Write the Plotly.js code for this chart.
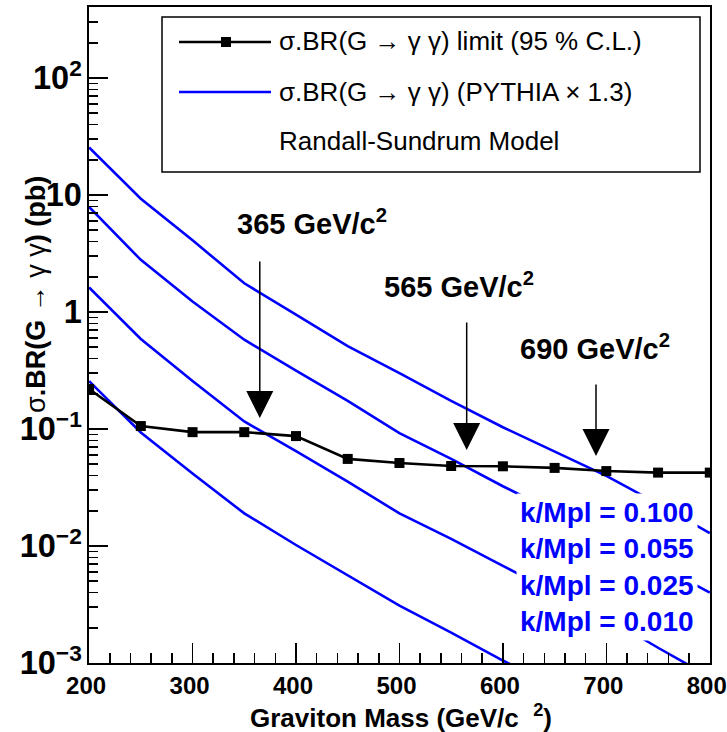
<!DOCTYPE html>
<html>
<head>
<meta charset="utf-8">
<script src="https://cdn.plot.ly/plotly-3.0.1.min.js"></script>
<style>html,body{margin:0;padding:0;background:#fff;}</style>
</head>
<body>
<div id="chart" style="width:727px;height:732px;"></div>
<script>
// ---- data ----
const mass = [200, 250, 300, 350, 400, 450, 500, 550, 600, 650, 700, 750, 800];
const limit95 = [0.22, 0.106, 0.094, 0.094, 0.087, 0.0555, 0.0512, 0.0483, 0.048, 0.0465, 0.0437, 0.0424, 0.0424];
const rs_k0100 = [25.5, 9.3, 4.1, 1.76, 0.95, 0.51, 0.30, 0.174, 0.1035, 0.0646, 0.0398, 0.0229, 0.0129];
const rs_k0055 = [7.9, 2.79, 1.23, 0.58, 0.316, 0.174, 0.0923, 0.0556, 0.0324, 0.0195, 0.01175, 0.0069, 0.0040];
const rs_k0025 = [1.62, 0.589, 0.257, 0.116, 0.0646, 0.0355, 0.019, 0.0115, 0.00676, 0.0040, 0.00245, 0.00135, 0.00076];
const rs_k0010 = [0.257, 0.0933, 0.0417, 0.019, 0.0102, 0.00562, 0.00309, 0.00182, 0.00105, 0.00063, 0.00038, 0.000224, 0.000129];
const kLabels = ["k/Mpl = 0.100", "k/Mpl = 0.055", "k/Mpl = 0.025", "k/Mpl = 0.010"];
const legendTexts = ["σ.BR(G → γ γ) limit (95 % C.L.)", "σ.BR(G → γ γ) (PYTHIA × 1.3)", "Randall-Sundrum Model"];
const exclusion = [
  {m: 365, label: "365 GeV/c<sup>2</sup>", tip: 0.124, tail: 2.78},
  {m: 565, label: "565 GeV/c<sup>2</sup>", tip: 0.0662, tail: 0.838},
  {m: 690, label: "690 GeV/c<sup>2</sup>", tip: 0.0587, tail: 0.247}
];

// ---- layout helpers (pixel -> paper) ----
const L = 89, R = 710, T = 7, B = 663;
const px = x => (x - L) / (R - L);
const py = y => (B - y) / (B - T);
const FONT = "Liberation Sans, Arial, Helvetica, sans-serif";
const BLUE = "#0000ff";

const blueLine = {color: BLUE, width: 2.6};
const traces = [rs_k0100, rs_k0055, rs_k0025, rs_k0010].map(v => ({
  x: mass, y: v, type: "scatter", mode: "lines", line: blueLine, hoverinfo: "skip", showlegend: false
}));
traces.push({
  x: mass, y: limit95, type: "scatter", mode: "lines+markers",
  line: {color: "#000", width: 2.6},
  marker: {symbol: "square", size: 10, color: "#000"},
  showlegend: false
});

const annotations = [];
// exclusion arrows and labels (label positions in pixels)
const labelPos = [
  {x: 235, y: 222},
  {x: 382, y: 285},
  {x: 518, y: 347}
];
exclusion.forEach((e, i) => {
  annotations.push({
    x: e.m, y: Math.log10(e.tip), ax: e.m, ay: Math.log10(e.tail),
    xref: "x", yref: "y", axref: "x", ayref: "y",
    text: "", showarrow: true, arrowhead: 2, arrowsize: 3.6, arrowwidth: 1.5, arrowcolor: "#000"
  });
  annotations.push({
    x: px(labelPos[i].x), y: py(labelPos[i].y), xref: "paper", yref: "paper",
    xanchor: "left", yanchor: "middle", showarrow: false,
    text: "<b>" + e.label + "</b>",
    font: {family: FONT, size: 29, color: "#000"}
  });
});
// k/Mpl labels (white box hides curves behind)
annotations.push({
  x: px(607), y: py(567), xref: "paper", yref: "paper", xanchor: "center", yanchor: "middle",
  showarrow: false, align: "left", bgcolor: "#fff", borderpad: 3,
  text: kLabels.map(t => "<b>" + t + "</b>").join("<br>"),
  font: {family: FONT, size: 28, color: BLUE}
});
// legend texts
const legY = [41, 92, 141];
legendTexts.forEach((t, i) => {
  annotations.push({
    x: px(277), y: py(legY[i]), xref: "paper", yref: "paper", xanchor: "left", yanchor: "middle",
    showarrow: false, text: t, font: {family: FONT, size: 26, color: "#000"}
  });
});
// axis titles
annotations.push({
  x: px(36), y: py(295), xref: "paper", yref: "paper", xanchor: "center", yanchor: "middle",
  textangle: -90, showarrow: false,
  text: "σ<b>.BR(G</b> → γ γ<b>) (pb)</b>",
  font: {family: FONT, size: 27, color: "#000"}
});
annotations.push({
  x: px(401), y: py(716), xref: "paper", yref: "paper", xanchor: "center", yanchor: "middle",
  showarrow: false, text: "<b>Graviton Mass (GeV/c  <sup>2</sup>)</b>",
  font: {family: FONT, size: 26, color: "#000"}
});

const shapes = [
  {type: "rect", xref: "paper", yref: "paper", x0: px(162), x1: px(700), y0: py(172), y1: py(17),
   line: {color: "#000", width: 1.5}, fillcolor: "#fff", layer: "above"},
  {type: "line", xref: "paper", yref: "paper", x0: px(179), x1: px(271), y0: py(42), y1: py(42),
   line: {color: "#000", width: 2.6}},
  {type: "rect", xref: "paper", yref: "paper", x0: px(221), x1: px(231), y0: py(47), y1: py(37),
   line: {width: 0}, fillcolor: "#000"},
  {type: "line", xref: "paper", yref: "paper", x0: px(179), x1: px(271), y0: py(92), y1: py(92),
   line: {color: BLUE, width: 2.6}}
];

const layout = {
  width: 727, height: 732,
  margin: {l: L, r: 727 - R, t: T, b: 732 - B},
  paper_bgcolor: "#fff", plot_bgcolor: "#fff",
  showlegend: false,
  font: {family: FONT, color: "#000"},
  xaxis: {
    range: [199.9, 800.2], tick0: 200, dtick: 100, ticks: "inside", ticklen: 20, tickwidth: 1.5, tickcolor: "#000",
    minor: {dtick: 20, ticks: "inside", ticklen: 10, tickwidth: 1.5, tickcolor: "#000"},
    ticklabeloverflow: "allow", ticklabelshift: -3,
    showline: true, linewidth: 2, linecolor: "#000", mirror: true, showgrid: false, zeroline: false,
    tickfont: {family: FONT, size: 24, weight: "bold", color: "#000"}
  },
  yaxis: {
    type: "log", range: [-3, 2.607], dtick: 1, exponentformat: "power",
    ticks: "inside", ticklen: 19, tickwidth: 1.5, tickcolor: "#000",
    minor: {dtick: "D1", ticks: "inside", ticklen: 9, tickwidth: 1.5, tickcolor: "#000"},
    showline: true, linewidth: 2, linecolor: "#000", mirror: true, showgrid: false, zeroline: false,
    tickfont: {family: FONT, size: 26, weight: "bold", color: "#000"}
  },
  annotations: annotations,
  shapes: shapes
};

Plotly.newPlot("chart", traces, layout, {displayModeBar: false, staticPlot: true});
</script>
</body>
</html>
